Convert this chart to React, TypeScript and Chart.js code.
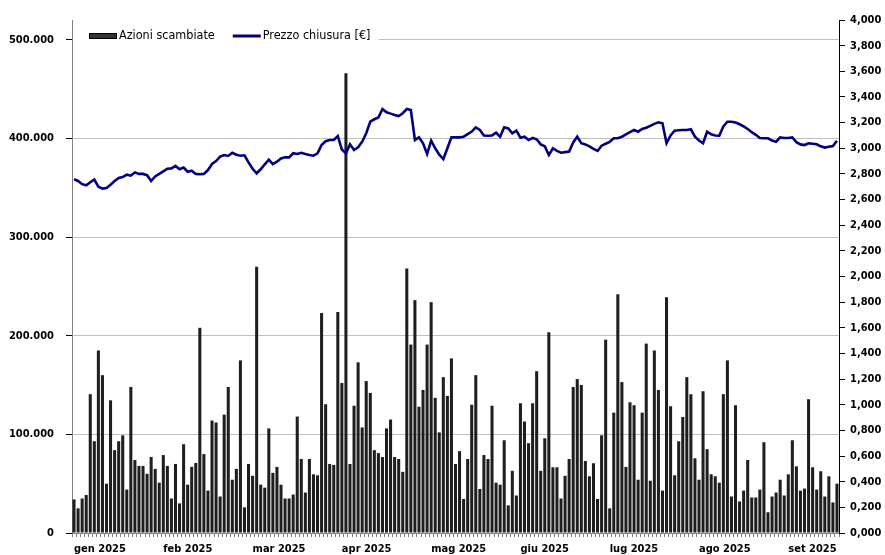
import React, { useEffect, useRef } from 'react';
import { Chart, registerables } from 'chart.js';

Chart.register(...registerables);

const monthLabels = ['gen 2025', 'feb 2025', 'mar 2025', 'apr 2025', 'mag 2025', 'giu 2025', 'lug 2025', 'ago 2025', 'set 2025'];
const labelInterval = 22;

const volumeLabel = 'Azioni scambiate';
const priceLabel = 'Prezzo chiusura [€]';

const volumes = [
  34000, 25000, 35000, 38500, 140700, 93000, 185000, 160000, 50000, 134500,
  84000, 93000, 99000, 44000, 148000, 74000, 68000, 68000, 60000, 77000,
  65000, 51000, 79000, 68000, 35000, 70000, 30000, 90000, 49000, 67000,
  71000, 208000, 80000, 43000, 114000, 112000, 37000, 120000, 148000, 54000,
  65000, 175000, 26000, 70000, 58000, 270000, 49000, 46000, 106000, 61000,
  67000, 49000, 35000, 35000, 39000, 118000, 75000, 41000, 75000, 59500,
  58500, 223000, 130500, 70000, 69000, 224000, 152000, 466000, 70000, 129000,
  173000, 107000, 154000, 142000, 84000, 81000, 77000, 106000, 115000, 77000,
  75000, 62000, 268000, 191000, 236000, 128000, 145000, 191000, 234000, 137000,
  102000, 158000, 139000, 177000, 70000, 83000, 34500, 75000, 130000, 160000,
  44600, 79000, 75000, 129000, 51000, 49000, 94000, 28000, 63000, 38000,
  131500, 113000, 91000, 131500, 164000, 63000, 96000, 203500, 66600, 66600,
  35000, 58000, 75000, 148000, 156000, 150000, 73000, 57500, 70700, 34500,
  99000, 196000, 25000, 122000, 242000, 153000, 67000, 132500, 129500, 54000,
  122000, 192000, 53000, 185000, 145000, 43000, 239000, 128500, 58500, 93000,
  117600, 158000, 140700, 75700, 54000, 143700, 85000, 59500, 57500, 51000,
  140700, 175000, 37000, 129500, 32000, 43000, 74000, 36000, 36000, 44000,
  92000, 21000, 37000, 41000, 54000, 38000, 59500, 94000, 67600, 43000,
  45000, 135600, 66600, 44000, 62600, 37000, 57500, 31000, 50000,
];

const prices = [
  2.758, 2.745, 2.72, 2.711, 2.735, 2.755, 2.7, 2.685, 2.69, 2.715,
  2.745, 2.768, 2.775, 2.794, 2.786, 2.812, 2.8, 2.8, 2.79, 2.745,
  2.78, 2.8, 2.82, 2.84, 2.843, 2.862, 2.836, 2.85, 2.817, 2.825,
  2.8, 2.797, 2.8, 2.83, 2.877, 2.9, 2.935, 2.947, 2.94, 2.965,
  2.95, 2.942, 2.945, 2.89, 2.84, 2.805, 2.836, 2.875, 2.911, 2.877,
  2.895, 2.92, 2.929, 2.929, 2.961, 2.955, 2.965, 2.955, 2.948, 2.942,
  2.96, 3.025, 3.055, 3.064, 3.064, 3.095, 2.99, 2.961, 3.031, 2.986,
  3.007, 3.051, 3.117, 3.207, 3.226, 3.24, 3.306, 3.28, 3.27, 3.26,
  3.251, 3.273, 3.306, 3.298, 3.064, 3.085, 3.039, 2.955, 3.059, 3.0,
  2.95, 2.916, 3.0, 3.085, 3.085, 3.085, 3.09, 3.11, 3.13, 3.163,
  3.142, 3.1, 3.098, 3.1, 3.121, 3.09, 3.163, 3.155, 3.117, 3.137,
  3.082, 3.09, 3.064, 3.08, 3.07, 3.03, 3.015, 2.947, 3.0, 2.98,
  2.965, 2.97, 2.975, 3.045, 3.09, 3.039, 3.03, 3.015, 2.995, 2.979,
  3.02, 3.035, 3.05, 3.078, 3.078, 3.09, 3.109, 3.125, 3.142, 3.129,
  3.15, 3.16, 3.175, 3.19, 3.202, 3.195, 3.039, 3.1, 3.137, 3.14,
  3.142, 3.142, 3.148, 3.09, 3.06, 3.039, 3.129, 3.109, 3.1, 3.098,
  3.17, 3.207, 3.207, 3.2, 3.187, 3.17, 3.15, 3.125, 3.105, 3.08,
  3.078, 3.078, 3.06, 3.051, 3.085, 3.08, 3.08, 3.085, 3.047, 3.03,
  3.025, 3.039, 3.035, 3.031, 3.015, 3.005, 3.012, 3.018, 3.059,
];

const leftMax = 520000;
const leftTicks = [0, 100000, 200000, 300000, 400000, 500000];
const rightMax = 4;
const rightStep = 0.2;

const categories = volumes.map((_, i) =>
  i % labelInterval === 0 && monthLabels[i / labelInterval] ? monthLabels[i / labelInterval] : ''
);

const FAMILY = '"DejaVu Sans Condensed", "DejaVu Sans", sans-serif';
const tickFont = { family: FAMILY, size: 11, weight: 'bold' as const };

const fmtThousands = (v: number) =>
  v === 0 ? '0' : String(Math.round(v)).replace(/\B(?=(\d{3})+(?!\d))/g, '.');
const fmtPrice = (v: number) => v.toFixed(3).replace('.', ',');

const legendPlugin = {
  id: 'customLegend',
  afterDraw(chart: any) {
    const ctx = chart.ctx as CanvasRenderingContext2D;
    const area = chart.chartArea;
    ctx.save();
    const cy = 36;
    ctx.font = `12.5px ${FAMILY}`;
    ctx.textBaseline = 'middle';
    ctx.textAlign = 'left';
    const x0 = area.left + 17;
    const sw = 28;
    const w1 = ctx.measureText(volumeLabel).width;
    const x2 = x0 + sw + 2 + w1 + 18;
    const w2 = ctx.measureText(priceLabel).width;
    const right = x2 + sw + 2 + w2 + 8;
    ctx.fillStyle = '#ffffff';
    ctx.fillRect(area.left + 1, cy - 9, right - area.left - 1, 18);
    ctx.fillStyle = '#333333';
    ctx.fillRect(x0, cy - 3, sw, 6);
    ctx.strokeStyle = '#000';
    ctx.lineWidth = 1;
    ctx.strokeRect(x0 + 0.5, cy - 2.5, sw - 1, 5);
    ctx.fillStyle = '#000';
    ctx.fillText(volumeLabel, x0 + sw + 2, cy);
    ctx.strokeStyle = '#000080';
    ctx.lineWidth = 3;
    ctx.beginPath();
    ctx.moveTo(x2, cy);
    ctx.lineTo(x2 + sw, cy);
    ctx.stroke();
    ctx.fillStyle = '#000';
    ctx.fillText(priceLabel, x2 + sw + 2, cy);
    ctx.restore();
  },
};

export default function App() {
  const canvasRef = useRef<HTMLCanvasElement | null>(null);

  useEffect(() => {
    if (!canvasRef.current) return;
    const chart = new Chart(canvasRef.current, {
      type: 'bar',
      data: {
        labels: categories,
        datasets: [
          {
            type: 'line',
            label: priceLabel,
            data: prices,
            yAxisID: 'y1',
            borderColor: '#000080',
            borderWidth: 2.6,
            pointRadius: 0,
            tension: 0,
            fill: false,
            order: 0,
          } as any,
          {
            type: 'bar',
            label: volumeLabel,
            data: volumes,
            yAxisID: 'y',
            backgroundColor: '#1e1e1e',
            borderColor: '#000',
            borderWidth: 0,
            barPercentage: 0.75,
            categoryPercentage: 1,
            order: 1,
          } as any,
        ],
      },
      options: {
        responsive: false,
        animation: false,
        layout: { padding: { top: 20, left: 0, right: 0, bottom: 0 } },
        plugins: { legend: { display: false }, tooltip: { enabled: false } },
        scales: {
          x: {
            type: 'category',
            offset: true,
            grid: {
              display: true,
              drawOnChartArea: false,
              drawTicks: true,
              tickLength: 4,
              color: '#808080',
              tickColor: '#808080',
              offset: true,
            },
            border: { color: '#808080' },
            ticks: {
              autoSkip: false,
              maxRotation: 0,
              minRotation: 0,
              align: 'start',
              padding: 6,
              color: '#000',
              font: tickFont,
            },
            afterFit: (s: any) => {
              s.height = 22;
            },
          },
          y: {
            position: 'left',
            min: 0,
            max: leftMax,
            ticks: {
              callback: (v: any) => fmtThousands(Number(v)),
              padding: 12,
              color: '#000',
              font: tickFont,
              autoSkip: false,
            },
            grid: { color: '#c0c0c0', tickColor: '#000', tickLength: 6 },
            border: { color: '#808080' },
            afterBuildTicks: (s: any) => {
              s.ticks = leftTicks.map((v) => ({ value: v }));
            },
            afterFit: (s: any) => {
              s.width = 72;
            },
          },
          y1: {
            position: 'right',
            min: 0,
            max: rightMax,
            ticks: {
              stepSize: rightStep,
              callback: (v: any) => fmtPrice(Number(v)),
              padding: 5,
              color: '#000',
              font: tickFont,
              autoSkip: false,
            },
            grid: { drawOnChartArea: false, tickColor: '#000', tickLength: 6 },
            border: { color: '#000' },
            afterFit: (s: any) => {
              s.width = 46;
            },
          },
        },
      },
      plugins: [legendPlugin],
    } as any);
    return () => chart.destroy();
  }, []);

  return (
    <div style={{ position: 'fixed', left: 0, top: 0, width: 885, height: 555, background: '#fff' }}>
      <canvas ref={canvasRef} width={885} height={555} style={{ display: 'block' }} />
    </div>
  );
}
